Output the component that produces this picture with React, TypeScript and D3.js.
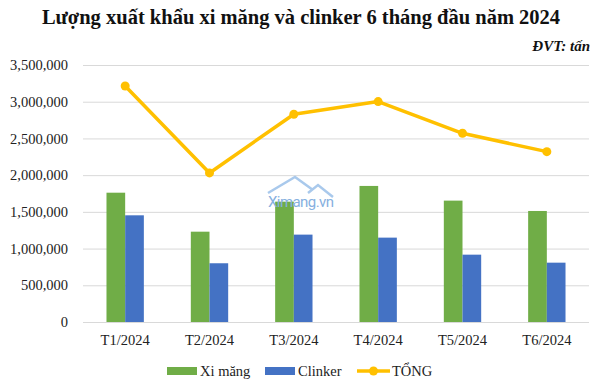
import { useEffect, useRef } from 'react';
import * as d3 from 'd3';

const months = ['T1/2024', 'T2/2024', 'T3/2024', 'T4/2024', 'T5/2024', 'T6/2024'];
const ximang = [1761000, 1230000, 1639000, 1853000, 1653000, 1512000];
const clinker = [1453000, 800000, 1190000, 1149000, 917000, 808000];
const tong = [3214000, 2030000, 2829000, 3002000, 2570000, 2320000];
const yTicks = [0, 500000, 1000000, 1500000, 2000000, 2500000, 3000000, 3500000];

const GREEN = '#70AD47';
const BLUE = '#4472C4';
const GOLD = '#FFC000';
const FONT = '"Liberation Serif", serif';
const FS = 14.5;

export default function App() {
  const svgRef = useRef<SVGSVGElement>(null);

  useEffect(() => {
    if (!svgRef.current) return;
    const svg = d3.select(svgRef.current);
    svg.selectAll('*').remove();

    const W = 600;
    const H = 387;
    const margin = { top: 65, right: 11, bottom: 65, left: 83 };
    const plotW = W - margin.left - margin.right;
    const plotH = H - margin.top - margin.bottom;

    svg.append('rect').attr('width', W).attr('height', H).attr('fill', '#fff');

    // Title
    svg.append('text')
      .attr('x', 301)
      .attr('y', 24)
      .attr('text-anchor', 'middle')
      .attr('font-family', FONT)
      .attr('font-weight', 'bold')
      .attr('font-size', 20.5)
      .attr('fill', '#111')
      .text('Lượng xuất khẩu xi măng và clinker 6 tháng đầu năm 2024');

    svg.append('text')
      .attr('x', 590)
      .attr('y', 51)
      .attr('text-anchor', 'end')
      .attr('font-family', FONT)
      .attr('font-weight', 'bold')
      .attr('font-style', 'italic')
      .attr('font-size', 15)
      .attr('fill', '#111')
      .text('ĐVT: tấn');

    const g = svg.append('g').attr('transform', `translate(${margin.left},${margin.top})`);

    const x = d3.scaleBand<string>()
      .domain(months)
      .range([0, plotW])
      .paddingInner(0.557)
      .paddingOuter(0.2785);

    const xSeries = d3.scaleBand<string>()
      .domain(['ximang', 'clinker'])
      .range([0, x.bandwidth()]);

    const y = d3.scaleLinear().domain([0, 3500000]).range([plotH, 0]);

    // Grid lines
    g.append('g')
      .call(d3.axisLeft(y).tickValues(yTicks).tickSize(-plotW).tickFormat(() => ''))
      .call(s => s.select('.domain').remove())
      .selectAll('line')
      .attr('stroke', '#D9D9D9')
      .attr('stroke-width', 1);

    // Y axis labels
    g.append('g')
      .call(d3.axisLeft(y).tickValues(yTicks).tickSize(0).tickPadding(15).tickFormat(d => d3.format(',')(d as number)))
      .call(s => s.select('.domain').remove())
      .selectAll('text')
      .attr('font-family', FONT)
      .attr('font-size', FS)
      .attr('fill', '#222');

    // X axis labels
    g.append('g')
      .attr('transform', `translate(0,${plotH})`)
      .call(d3.axisBottom(x).tickSize(0).tickPadding(13))
      .call(s => s.select('.domain').remove())
      .selectAll('text')
      .attr('font-family', FONT)
      .attr('font-size', FS)
      .attr('fill', '#222');

    // Watermark (behind bars)
    const wm = svg.append('g');
    wm.append('path')
      .attr('d', 'M268,193 L295,177 L313,190 M308,193 L318,185 L333,197')
      .attr('fill', 'none')
      .attr('stroke', '#A9C9EC')
      .attr('stroke-width', 2.5);
    wm.append('text')
      .attr('x', 268)
      .attr('y', 207)
      .attr('font-family', 'Roboto, sans-serif')
      .attr('font-size', 15)
      .attr('textLength', 66)
      .attr('fill', '#86B0E0')
      .text('Ximang.vn');

    // Bars
    const groups = g.selectAll('.grp')
      .data(months)
      .enter()
      .append('g')
      .attr('transform', d => `translate(${x(d)},0)`);

    groups.append('rect')
      .attr('x', xSeries('ximang')!)
      .attr('width', xSeries.bandwidth())
      .attr('y', (_, i) => y(ximang[i]))
      .attr('height', (_, i) => plotH - y(ximang[i]))
      .attr('fill', GREEN);

    groups.append('rect')
      .attr('x', xSeries('clinker')!)
      .attr('width', xSeries.bandwidth())
      .attr('y', (_, i) => y(clinker[i]))
      .attr('height', (_, i) => plotH - y(clinker[i]))
      .attr('fill', BLUE);

    // Total line
    const cx = (i: number) => (x(months[i]) ?? 0) + x.bandwidth() / 2;
    const line = d3.line<number>()
      .x((_, i) => cx(i))
      .y(d => y(d));

    g.append('path')
      .datum(tong)
      .attr('fill', 'none')
      .attr('stroke', GOLD)
      .attr('stroke-width', 3.5)
      .attr('stroke-linejoin', 'round')
      .attr('d', line);

    g.selectAll('.dot')
      .data(tong)
      .enter()
      .append('circle')
      .attr('cx', (_, i) => cx(i))
      .attr('cy', d => y(d))
      .attr('r', 4.5)
      .attr('fill', GOLD);

    // Legend
    const legend = svg.append('g').attr('font-family', FONT).attr('font-size', FS).attr('fill', '#222');
    const ly = 371;
    legend.append('rect').attr('x', 167).attr('y', ly - 4).attr('width', 30).attr('height', 8).attr('fill', GREEN);
    legend.append('text').attr('x', 200).attr('y', ly + 5).text('Xi măng');
    legend.append('rect').attr('x', 265).attr('y', ly - 4).attr('width', 30).attr('height', 8).attr('fill', BLUE);
    legend.append('text').attr('x', 298).attr('y', ly + 5).text('Clinker');
    legend.append('line').attr('x1', 357).attr('x2', 390).attr('y1', ly).attr('y2', ly).attr('stroke', GOLD).attr('stroke-width', 3.5);
    legend.append('circle').attr('cx', 373.5).attr('cy', ly).attr('r', 4.5).attr('fill', GOLD);
    legend.append('text').attr('x', 392).attr('y', ly + 5).text('TỔNG');
  }, []);

  return (
    <svg
      ref={svgRef}
      width={600}
      height={387}
      style={{ position: 'absolute', left: 0, top: 0, display: 'block' }}
    />
  );
}
